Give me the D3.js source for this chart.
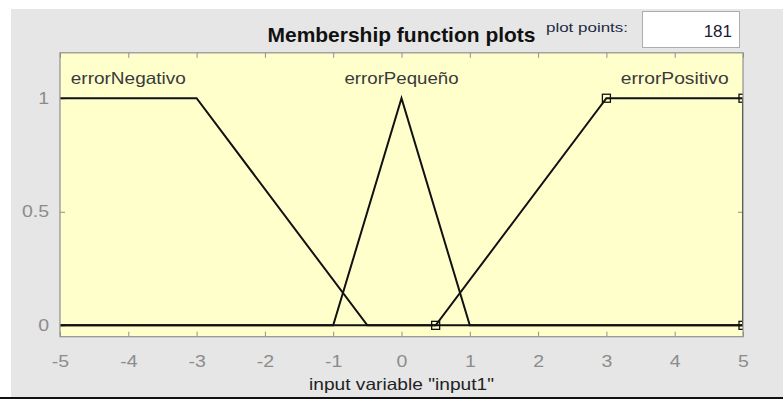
<!DOCTYPE html>
<html>
<head>
<meta charset="utf-8">
<script src="https://cdn.jsdelivr.net/npm/d3@7"></script>
<style>
  html, body { margin: 0; padding: 0; background: #ffffff; }
  svg { display: block; }
  text { font-family: "Liberation Sans", Arial, Helvetica, sans-serif; }
</style>
</head>
<body>
<svg id="chart" width="783" height="399"></svg>
<script>
// Membership function data for input variable "input1"
const xTicks = [-5, -4, -3, -2, -1, 0, 1, 2, 3, 4, 5];
const xTickLabels = ["-5", "-4", "-3", "-2", "-1", "0", "1", "2", "3", "4", "5"];
const yTicks = [0, 0.5, 1];
const yTickLabels = ["0", "0.5", "1"];
const mfNames = ["errorNegativo", "errorPequeño", "errorPositivo"];
// breakpoints of each function across the input range
const errorNegativoX = [-5, -3, -0.5, 5];
const errorNegativoY = [1, 1, 0, 0];
const errorPequenoX = [-5, -1, 0, 1, 5];
const errorPequenoY = [0, 0, 1, 0, 0];
const errorPositivoX = [-5, 0.5, 3, 5, 5];
const errorPositivoY = [0, 0, 1, 1, 0];
// the selected function shows its parameter points
const selectedX = [0.5, 3, 5, 5];
const selectedY = [0, 1, 1, 0];
// centre of each function's plateau, where its name is written
const labelX = [-4, 0, 4];
const plotPoints = 181;
const xRange = [-5, 5];
const yRange = [-0.05, 1.2];

const svg = d3.select("#chart");
const W = 783, H = 399;

// figure panel
svg.append("rect").attr("x", 0).attr("y", 0).attr("width", W).attr("height", H).attr("fill", "#ffffff");
svg.append("rect").attr("x", 11).attr("y", 9).attr("width", W - 11).attr("height", H - 9).attr("fill", "#e6e6e6");
svg.append("rect").attr("x", 0).attr("y", 397).attr("width", W).attr("height", 2).attr("fill", "#111111");

const pLeft = 60, pRight = 743, pTop = 52.8, pBottom = 336.7;
const x = d3.scaleLinear().domain(xRange).range([pLeft, pRight]);
const y = d3.scaleLinear().domain(yRange).range([pBottom, pTop]);

// axes background
svg.append("rect").attr("x", pLeft).attr("y", pTop).attr("width", pRight - pLeft).attr("height", pBottom - pTop)
  .attr("fill", "#ffffcc");

svg.append("clipPath").attr("id", "plotClip")
  .append("rect").attr("x", pLeft).attr("y", pTop).attr("width", pRight - pLeft).attr("height", pBottom - pTop);

// axes with inward ticks on all four sides
const tickLen = 5;
const axisBottom = d3.axisBottom(x).tickValues(xTicks).tickSizeInner(-tickLen).tickSizeOuter(0)
  .tickFormat((d, i) => xTickLabels[i]);
const axisTop = d3.axisTop(x).tickValues(xTicks).tickSizeInner(-tickLen).tickSizeOuter(0).tickFormat("");
const axisLeft = d3.axisLeft(y).tickValues(yTicks).tickSizeInner(-tickLen).tickSizeOuter(0)
  .tickFormat((d, i) => yTickLabels[i]);
const axisRight = d3.axisRight(y).tickValues(yTicks).tickSizeInner(-tickLen).tickSizeOuter(0).tickFormat("");

const axColor = "#8f8f8f";
function styleAxis(g) {
  g.select(".domain").remove();
  g.selectAll(".tick line").attr("stroke", axColor).attr("stroke-width", 1);
  g.selectAll(".tick text").attr("fill", "#8c8c8c").attr("font-size", 16).attr("font-family", null);
}
const gB = svg.append("g").attr("transform", `translate(0,${pBottom})`).call(axisBottom).call(styleAxis);
// labels are stretched horizontally about their own centre
gB.selectAll(".tick text").attr("x", 0).attr("y", 0).attr("dy", null)
  .attr("transform", "translate(0,30) scale(1.22,1)");
svg.append("g").attr("transform", `translate(0,${pTop})`).call(axisTop).call(styleAxis);
const gL = svg.append("g").attr("transform", `translate(${pLeft},0)`).call(axisLeft).call(styleAxis);
gL.selectAll(".tick text").attr("x", 0).attr("transform", "translate(-11,0) scale(1.22,1)");
svg.append("g").attr("transform", `translate(${pRight},0)`).call(axisRight).call(styleAxis);

// membership function curves
const line = d3.line().x(d => x(d[0])).y(d => y(d[1]));
const curves = [
  d3.zip(errorNegativoX, errorNegativoY),
  d3.zip(errorPequenoX, errorPequenoY),
  d3.zip(errorPositivoX, errorPositivoY)
];
const plot = svg.append("g").attr("clip-path", "url(#plotClip)");
plot.selectAll("path.mf").data(curves).join("path")
  .attr("class", "mf")
  .attr("d", line)
  .attr("fill", "none")
  .attr("stroke", "#111111")
  .attr("stroke-width", 2)
  .attr("stroke-linejoin", "miter");

const ms = 8;
plot.selectAll("rect.marker").data(d3.zip(selectedX, selectedY)).join("rect")
  .attr("class", "marker")
  .attr("x", d => x(d[0]) - ms / 2)
  .attr("y", d => y(d[1]) - ms / 2)
  .attr("width", ms).attr("height", ms)
  .attr("fill", "none")
  .attr("stroke", "#111111")
  .attr("stroke-width", 1.3);

// axes border
svg.append("rect").attr("x", pLeft).attr("y", pTop).attr("width", pRight - pLeft).attr("height", pBottom - pTop)
  .attr("fill", "none").attr("stroke", axColor).attr("stroke-width", 1.2);

// function names
const labelWidths = [115, 114, 108];
svg.selectAll("text.mfname").data(mfNames).join("text")
  .attr("class", "mfname")
  .attr("x", (d, i) => x(labelX[i]))
  .attr("y", y(1) - 14)
  .attr("text-anchor", "middle")
  .attr("font-size", 16.5)
  .attr("fill", "#3a3a3a")
  .attr("textLength", (d, i) => labelWidths[i])
  .attr("lengthAdjust", "spacingAndGlyphs")
  .text(d => d);

// title
svg.append("text")
  .attr("x", (pLeft + pRight) / 2).attr("y", 42)
  .attr("text-anchor", "middle")
  .attr("font-size", 21).attr("font-weight", "bold")
  .attr("fill", "#111111")
  .attr("textLength", 268).attr("lengthAdjust", "spacingAndGlyphs")
  .text("Membership function plots");

// x-axis label
svg.append("text")
  .attr("x", (pLeft + pRight) / 2).attr("y", 390)
  .attr("text-anchor", "middle")
  .attr("font-size", 16.5)
  .attr("fill", "#222222")
  .attr("textLength", 185).attr("lengthAdjust", "spacingAndGlyphs")
  .text('input variable "input1"');

// plot points control
svg.append("text")
  .attr("x", 546).attr("y", 32)
  .attr("font-size", 13.5)
  .attr("fill", "#1e2a44")
  .attr("textLength", 82).attr("lengthAdjust", "spacingAndGlyphs")
  .text("plot points:");
svg.append("rect").attr("x", 642.5).attr("y", 11.5).attr("width", 97).attr("height", 36)
  .attr("fill", "#ffffff").attr("stroke", "#adadad").attr("stroke-width", 1);
svg.append("text")
  .attr("x", 732).attr("y", 37)
  .attr("text-anchor", "end")
  .attr("font-size", 17)
  .attr("fill", "#1a1a3a")
  .text(plotPoints);
</script>
</body>
</html>
